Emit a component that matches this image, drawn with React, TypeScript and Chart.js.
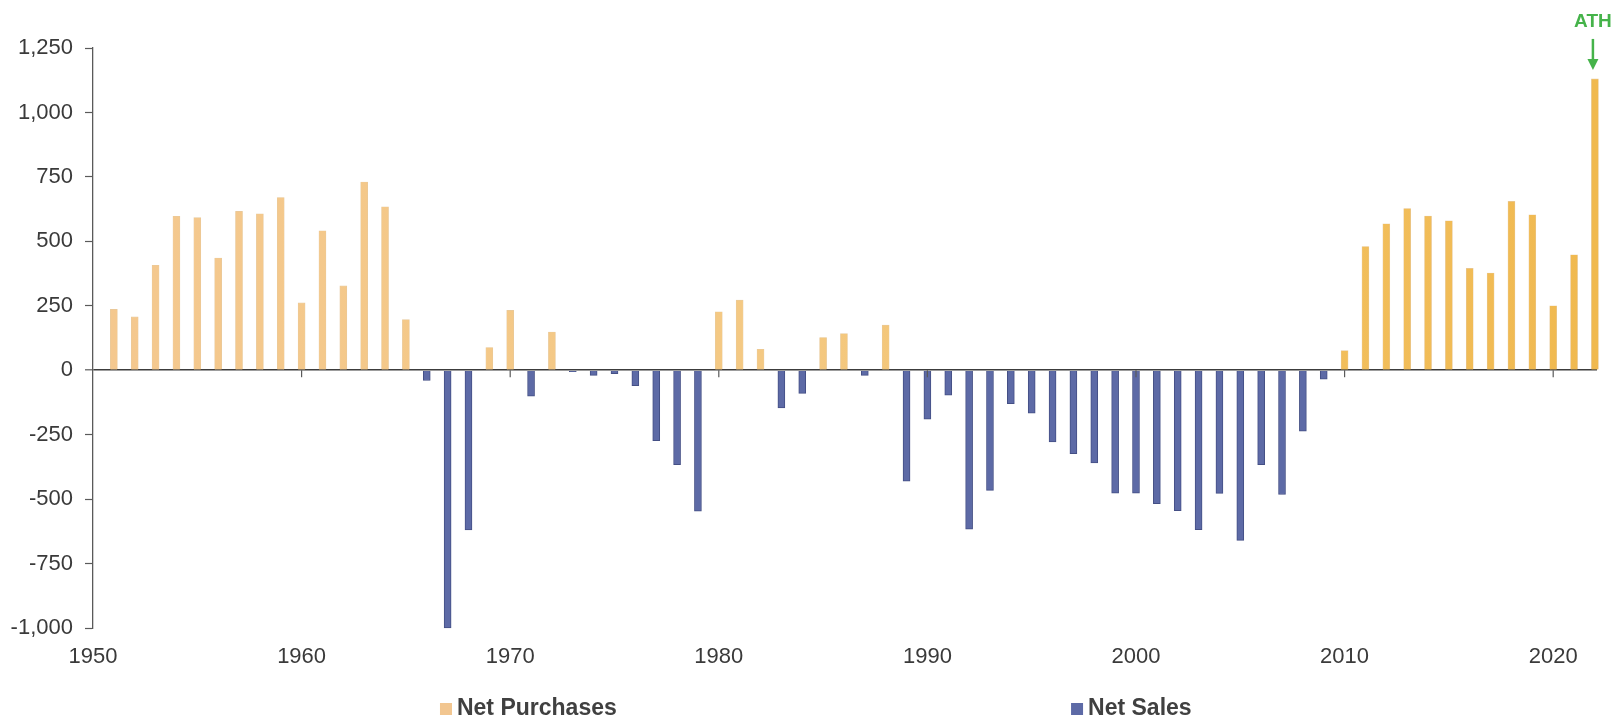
import { useEffect, useRef } from 'react';
import { Chart, registerables } from 'chart.js';

Chart.register(...registerables);

const years = [
  1951, 1952, 1953, 1954, 1955, 1956, 1957, 1958, 1959, 1960,
  1961, 1962, 1963, 1964, 1965, 1966, 1967, 1968, 1969, 1970,
  1971, 1972, 1973, 1974, 1975, 1976, 1977, 1978, 1979, 1980,
  1981, 1982, 1983, 1984, 1985, 1986, 1987, 1988, 1989, 1990,
  1991, 1992, 1993, 1994, 1995, 1996, 1997, 1998, 1999, 2000,
  2001, 2002, 2003, 2004, 2005, 2006, 2007, 2008, 2009, 2010,
  2011, 2012, 2013, 2014, 2015, 2016, 2017, 2018, 2019, 2020,
  2021, 2022,
];

// Net purchases (positive years), null where the year was a net sale
const netPurchases = [
  236, 207, 407, 597, 592, 435, 616, 607, 670, 261,
  541, 327, 730, 634, 196, null, null, null, 88, 232,
  null, 148, null, null, null, null, null, null, null, 227,
  272, 81, null, null, 127, 142, null, 175, null, null,
  null, null, null, null, null, null, null, null, null, null,
  null, null, null, null, null, null, null, null, null, 76,
  480, 568, 627, 598, 580, 395, 377, 655, 603, 250,
  448, 1130,
];

// Net sales (negative years), null where the year was a net purchase
const netSales = [
  null, null, null, null, null, null, null, null, null, null,
  null, null, null, null, null, -40, -1000, -620, null, null,
  -101, null, -6, -20, -13, -60, -273, -366, -547, null,
  null, null, -146, -90, null, null, -20, null, -430, -190,
  -97, -617, -466, -130, -167, -278, -324, -360, -477, -477,
  -518, -545, -619, -478, -660, -366, -482, -236, -35, null,
  null, null, null, null, null, null, null, null, null, null,
  null, null,
];

const yTicks = [-1000, -750, -500, -250, 0, 250, 500, 750, 1000, 1250];
const xTickYears = [1950, 1960, 1970, 1980, 1990, 2000, 2010, 2020];
const seriesLabels = ['Net Purchases', 'Net Sales'];
const athLabel = 'ATH';

const FONT = "'Liberation Sans', Arial, Helvetica, sans-serif";
const TEXT = '#3a3a3a';
const AXIS = '#5a5a5a';
const SALES = '#5d6aa6';
const SALES_EDGE = '#444f85';
const PURCH_LEGEND = '#f2c690';
const ATH_GREEN = '#45b34a';

export default function App() {
  const ref = useRef<HTMLCanvasElement>(null);

  useEffect(() => {
    const canvas = ref.current;
    if (!canvas) return;

    const purchaseFill = (ctx: any) => {
      const chart = ctx.chart;
      const area = chart.chartArea;
      if (!area) return PURCH_LEGEND;
      const g = chart.ctx.createLinearGradient(area.left, 0, area.right, 0);
      g.addColorStop(0, '#f4c88f');
      g.addColorStop(0.45, '#f4c983');
      g.addColorStop(0.8, '#f2bf5e');
      g.addColorStop(1, '#f0b94f');
      return g;
    };

    const overlay = {
      id: 'overlay',
      afterDatasetsDraw(chart: any) {
        const { ctx, chartArea, scales } = chart;
        const y0 = scales.y.getPixelForValue(0);
        ctx.save();
        ctx.strokeStyle = AXIS;
        ctx.lineWidth = 1.2;
        xTickYears.forEach((v) => {
          const x = scales.x.getPixelForValue(v);
          if (x <= chartArea.left + 1) return;
          ctx.beginPath();
          ctx.moveTo(x, y0);
          ctx.lineTo(x, y0 + 7);
          ctx.stroke();
        });
        ctx.restore();
      },
      afterDraw(chart: any) {
        const { ctx, chartArea, scales } = chart;
        const w = chartArea.right - chartArea.left;
        ctx.save();

        // Legend
        const ly = chartArea.bottom + 81;
        const items = [
          { label: seriesLabels[0], color: PURCH_LEGEND, frac: 0.2307 },
          { label: seriesLabels[1], color: SALES, frac: 0.6503 },
        ];
        ctx.font = `bold 23px ${FONT}`;
        ctx.textBaseline = 'middle';
        ctx.textAlign = 'left';
        items.forEach((it) => {
          const x = chartArea.left + it.frac * w;
          ctx.fillStyle = it.color;
          ctx.fillRect(x, ly - 6, 12, 12);
          ctx.fillStyle = '#404040';
          ctx.fillText(it.label, x + 17, ly);
        });

        // ATH annotation at the last (record) bar
        const lastIdx = years.length - 1;
        const ax = scales.x.getPixelForValue(years[lastIdx]) - 2;
        const top = scales.y.getPixelForValue(netPurchases[lastIdx] as number);
        ctx.strokeStyle = ATH_GREEN;
        ctx.fillStyle = ATH_GREEN;
        ctx.lineWidth = 2.5;
        ctx.beginPath();
        ctx.moveTo(ax, top - 40);
        ctx.lineTo(ax, top - 19);
        ctx.stroke();
        ctx.beginPath();
        ctx.moveTo(ax - 5.5, top - 20);
        ctx.lineTo(ax + 5.5, top - 20);
        ctx.lineTo(ax, top - 9);
        ctx.closePath();
        ctx.fill();
        ctx.font = `bold 19px ${FONT}`;
        ctx.textAlign = 'center';
        ctx.textBaseline = 'middle';
        ctx.fillText(athLabel, ax, top - 57);
        ctx.restore();
      },
    };

    const chart = new Chart(canvas, {
      type: 'bar',
      data: {
        datasets: [
          {
            label: seriesLabels[0],
            data: years
              .map((x, i) => ({ x, y: netPurchases[i] }))
              .filter((p) => p.y !== null) as any,
            backgroundColor: purchaseFill as any,
            borderColor: 'rgba(215,165,90,0.6)',
            borderWidth: 0.6,
            barThickness: 7,
            grouped: false,
            clip: false as any,
          },
          {
            label: seriesLabels[1],
            data: years
              .map((x, i) => ({ x, y: netSales[i] }))
              .filter((p) => p.y !== null) as any,
            backgroundColor: SALES,
            borderColor: SALES_EDGE,
            borderWidth: 1,
            barThickness: 7,
            grouped: false,
            clip: false as any,
          },
        ],
      },
      options: {
        animation: false,
        responsive: true,
        maintainAspectRatio: false,
        layout: { padding: { left: 0, right: 16, top: 48, bottom: 53 } },
        plugins: {
          legend: { display: false },
          tooltip: { enabled: false },
        },
        scales: {
          x: {
            type: 'linear',
            offset: false,
            min: 1950,
            max: 2022.1,
            position: 'bottom',
            afterBuildTicks: (s: any) => {
              s.ticks = xTickYears.map((v) => ({ value: v }));
            },
            afterFit: (s: any) => {
              s.height = 40;
              s.paddingLeft = 0;
              s.paddingRight = 0;
            },
            ticks: {
              autoSkip: false,
              maxRotation: 0,
              padding: 16,
              color: TEXT,
              font: { family: FONT, size: 22 },
              callback: (v: any) => String(v),
            },
            grid: { display: false, drawTicks: false, offset: false },
            border: { display: false },
          },
          y: {
            min: -1000,
            max: 1250,
            afterBuildTicks: (s: any) => {
              s.ticks = yTicks.map((v) => ({ value: v }));
            },
            afterFit: (s: any) => {
              s.width = 93;
              s.paddingTop = 0;
              s.paddingBottom = 0;
            },
            ticks: {
              padding: 12,
              color: TEXT,
              font: { family: FONT, size: 22 },
              callback: (v: any) => Number(v).toLocaleString('en-US'),
            },
            grid: {
              drawOnChartArea: true,
              color: (c: any) =>
                c.tick && c.tick.value === 0 ? '#3c3c3c' : 'rgba(0,0,0,0)',
              lineWidth: (c: any) => (c.tick && c.tick.value === 0 ? 1.6 : 1),
              tickColor: AXIS,
              tickLength: 8,
              tickWidth: 1.2,
            },
            border: { display: true, color: AXIS, width: 1.3 },
          },
        },
      },
      plugins: [overlay],
    });

    return () => chart.destroy();
  }, []);

  return (
    <div
      style={{
        position: 'fixed',
        left: 0,
        top: 0,
        width: '1613px',
        height: '721px',
        background: '#fff',
      }}
    >
      <canvas ref={ref} />
    </div>
  );
}
